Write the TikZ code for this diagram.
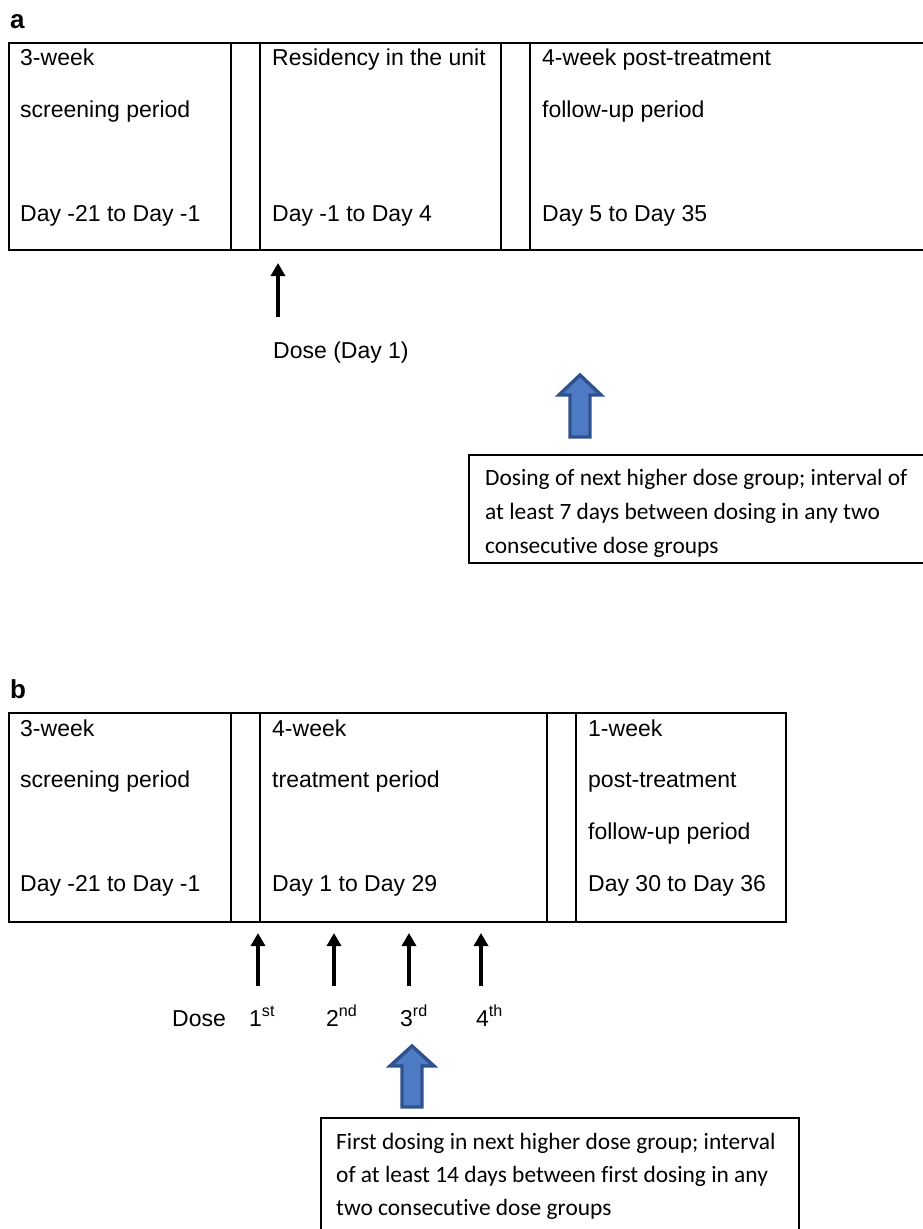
\documentclass[tikz,border=0pt]{standalone}
\usepackage{fontspec}
\setmainfont{Liberation Sans}
\newfontfamily\calfont[Ligatures={NoCommon}]{Carlito}
\usetikzlibrary{arrows.meta}
\definecolor{bluefill}{RGB}{79,123,196}
\definecolor{blueedge}{RGB}{47,82,143}
\begin{document}
\begin{tikzpicture}[x=1pt,y=-1pt,
  frame/.style={draw=black, line width=1.8pt},
  noteframe/.style={draw=black, line width=2.2pt},
  lab/.style={anchor=base west, inner sep=0pt, font=\fontsize{23}{27}\selectfont},
  notetext/.style={anchor=base west, inner sep=0pt, font=\calfont\fontsize{23.4}{27}\selectfont},
  panel/.style={anchor=base west, inner sep=0pt, font=\fontsize{26}{30}\selectfont\bfseries},
  dosearrow/.style={-{Triangle[length=13pt,width=14pt]}, line width=3.4pt},
  bigarrow/.style={draw=blueedge, fill=bluefill, line width=3.4pt, line join=miter}
]
\useasboundingbox (0,0) rectangle (923,1229);
\fill[white] (0,0) rectangle (923,1229);

% ---------------- Panel a ----------------
\node[panel] (pa) at (10,28) {a};
\draw[frame] (940,43) -- (9,43) -- (9,250) -- (940,250);
\draw[frame] (231,43) -- (231,250);
\draw[frame] (260,43) -- (260,250);
\draw[frame] (501,43) -- (501,250);
\draw[frame] (530,43) -- (530,250);

\node[lab] (a11) at (20,65) {3-week};
\node[lab] (a12) at (20,117) {screening period};
\node[lab] (a13) at (20,221) {Day -21 to Day -1};
\node[lab] (a21) at (272,65) {Residency in the unit};
\node[lab] (a23) at (272,221) {Day -1 to Day 4};
\node[lab] (a31) at (542,65) {4-week post-treatment};
\node[lab] (a32) at (542,117) {follow-up period};
\node[lab] (a33) at (542,221) {Day 5 to Day 35};

\coordinate (adt) at (278,263);
\coordinate (adb) at (278,317);
\draw[dosearrow] (adb) -- (adt);
\node[lab] (adose) at (273,358) {Dose (Day 1)};

\draw[bigarrow] (570,437) -- (570,395) -- (559,395) -- (580,375) -- (601,395) -- (590,395) -- (590,437) -- cycle;

\draw[noteframe] (940,455) -- (469,455) -- (469,563) -- (940,563);
\node[notetext] (an1) at (485,485) {Dosing of next higher dose group; interval of};
\node[notetext] (an2) at (485,519) {at least 7 days between dosing in any two};
\node[notetext] (an3) at (485,553) {consecutive dose groups};

% ---------------- Panel b ----------------
\node[panel] (pb) at (10,698) {b};
\draw[frame] (9,713) rectangle (786,922);
\draw[frame] (231,713) -- (231,922);
\draw[frame] (260,713) -- (260,922);
\draw[frame] (547,713) -- (547,922);
\draw[frame] (576,713) -- (576,922);

\node[lab] (b11) at (20,736) {3-week};
\node[lab] (b12) at (20,787) {screening period};
\node[lab] (b13) at (20,891) {Day -21 to Day -1};
\node[lab] (b21) at (272,736) {4-week};
\node[lab] (b22) at (272,787) {treatment period};
\node[lab] (b23) at (272,891) {Day 1 to Day 29};
\node[lab] (b31) at (588,736) {1-week};
\node[lab] (b32) at (588,787) {post-treatment};
\node[lab] (b33) at (588,839) {follow-up period};
\node[lab] (b34) at (588,891) {Day 30 to Day 36};

\foreach \n/\x in {1/258,2/334,3/409,4/481}{
  \coordinate (bt\n) at (\x,933);
  \coordinate (bb\n) at (\x,986);
  \draw[dosearrow] (bb\n) -- (bt\n);
}
\node[lab] (bdose) at (172,1026) {Dose};
\node[lab] (bd1) at (249,1026) {1\textsuperscript{st}};
\node[lab] (bd2) at (326,1026) {2\textsuperscript{nd}};
\node[lab] (bd3) at (400,1026) {3\textsuperscript{rd}};
\node[lab] (bd4) at (476,1026) {4\textsuperscript{th}};

\draw[bigarrow] (402,1107) -- (402,1066) -- (390,1066) -- (412,1046) -- (434,1066) -- (422,1066) -- (422,1107) -- cycle;

\draw[noteframe] (321,1240) -- (321,1118) -- (799,1118) -- (799,1240);
\node[notetext] (bn1) at (336,1149) {First dosing in next higher dose group; interval};
\node[notetext] (bn2) at (336,1182) {of at least 14 days between first dosing in any};
\node[notetext] (bn3) at (336,1215) {two consecutive dose groups};
\end{tikzpicture}
\end{document}
